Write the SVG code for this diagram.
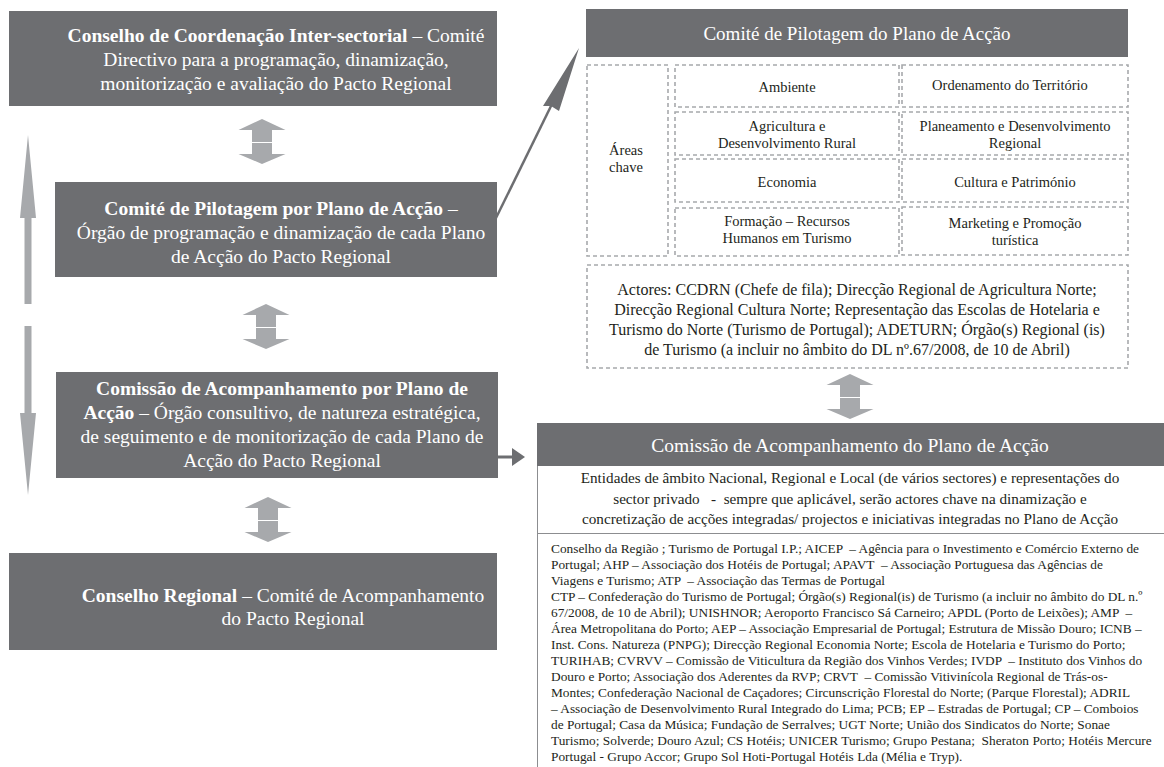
<svg xmlns="http://www.w3.org/2000/svg" width="1164" height="767" viewBox="0 0 1164 767" font-family="'Liberation Serif', 'DejaVu Serif', serif">
<style>
  .dark { fill: #6d6e71; }
  .wt { fill: #ffffff; }
  .lt { font-size: 19.5px; text-anchor: middle; }
  .b { font-weight: bold; }
  .hd { font-size: 19px; text-anchor: middle; }
  .bt { fill: #231f20; }
  .cell { font-size: 14.5px; text-anchor: middle; }
  .act { font-size: 16px; text-anchor: middle; }
  .mid { font-size: 15.2px; text-anchor: middle; }
  .small { font-size: 13.35px; }
  .dash { fill: none; stroke: #a7a9ac; stroke-width: 1.6; stroke-dasharray: 4 3; }
  .lg { fill: #a7a9ac; }
  .conn { stroke: #6d6e71; fill: none; }
  .thin { stroke: #8c8d90; stroke-width: 1; fill: none; }
</style>
<defs>
  <path id="dbl" d="M0,0 L23.5,11 L10,11 L10,23 L-10,23 L-10,11 L-23.5,11 Z M-10,24 L10,24 L10,35 L23.5,35 L0,45 L-23.5,35 L-10,35 Z"/>
</defs>
<rect width="1164" height="767" fill="#ffffff"/>

<g id="connectors">
  <path class="lg" d="M28,135 L36,218 L31.5,218 L31.5,304 L24.5,304 L24.5,218 L20,218 Z"/>
  <path class="lg" d="M24.5,326 L31.5,326 L31.5,413 L36,413 L28,495 L20,413 L24.5,413 Z"/>
  <use href="#dbl" class="lg" x="262" y="119"/>
  <use href="#dbl" class="lg" x="266" y="304"/>
  <use href="#dbl" class="lg" x="268" y="497"/>
  <use href="#dbl" class="lg" x="850" y="374"/>
  <line class="conn" x1="495" y1="220" x2="552" y2="104" stroke-width="2.5"/>
  <path class="dark" d="M579,48 L559,111 L551,106 L543,106 Z"/>
  <line class="conn" x1="487" y1="457" x2="514" y2="457" stroke-width="3"/>
  <path class="dark" d="M525,457 L512,448 L512,466 Z"/>
</g>

<g id="node-conselho-coordenacao">
  <rect class="dark" x="9" y="11" width="488" height="95"/>
  <text class="wt lt" x="276" y="42"><tspan class="b">Conselho de Coordenação Inter-sectorial</tspan> – Comité</text>
  <text class="wt lt" x="276" y="66">Directivo para a programação, dinamização,</text>
  <text class="wt lt" x="276" y="90">monitorização e avaliação do Pacto Regional</text>
</g>

<g id="node-comite-pilotagem">
  <rect class="dark" x="55" y="182" width="442" height="95"/>
  <text class="wt lt" x="281" y="215"><tspan class="b">Comité de Pilotagem por Plano de Acção</tspan> –</text>
  <text class="wt lt" x="281" y="239">Órgão de programação e dinamização de cada Plano</text>
  <text class="wt lt" x="281" y="263">de Acção do Pacto Regional</text>
</g>

<g id="node-comissao-acompanhamento">
  <rect class="dark" x="56" y="372" width="442" height="106"/>
  <text class="wt lt" x="282" y="395"><tspan class="b">Comissão de Acompanhamento por Plano de</tspan></text>
  <text class="wt lt" x="282" y="419"><tspan class="b">Acção</tspan> – Órgão consultivo, de natureza estratégica,</text>
  <text class="wt lt" x="282" y="443">de seguimento e de monitorização de cada Plano de</text>
  <text class="wt lt" x="282" y="467">Acção do Pacto Regional</text>
</g>

<g id="node-conselho-regional">
  <rect class="dark" x="9" y="553" width="488" height="97"/>
  <text class="wt lt" x="283" y="602"><tspan class="b">Conselho Regional</tspan> – Comité de Acompanhamento</text>
  <text class="wt lt" x="293" y="625">do Pacto Regional</text>
</g>

<g id="node-comite-pilotagem-plano">
  <rect class="dark" x="586" y="9" width="542" height="48"/>
  <text class="wt hd" x="857" y="40">Comité de Pilotagem do Plano de Acção</text>
</g>

<g id="node-areas-chave">
  <rect class="dash" x="587" y="65" width="81" height="191"/>
  <text class="bt cell" x="626" y="155">Áreas</text>
  <text class="bt cell" x="626" y="172">chave</text>
</g>

<g id="node-ambiente">
  <rect class="dash" x="675" y="65" width="224" height="42"/>
  <text class="bt cell" x="787" y="92">Ambiente</text>
</g>
<g id="node-ordenamento">
  <rect class="dash" x="902" y="65" width="226" height="42"/>
  <text class="bt cell" x="1010" y="90">Ordenamento do Território</text>
</g>
<g id="node-agricultura">
  <rect class="dash" x="675" y="112" width="224" height="43"/>
  <text class="bt cell" x="787" y="131">Agricultura e</text>
  <text class="bt cell" x="787" y="148">Desenvolvimento Rural</text>
</g>
<g id="node-planeamento">
  <rect class="dash" x="902" y="112" width="226" height="43"/>
  <text class="bt cell" x="1015" y="131">Planeamento e Desenvolvimento</text>
  <text class="bt cell" x="1015" y="148">Regional</text>
</g>
<g id="node-economia">
  <rect class="dash" x="675" y="159" width="224" height="43"/>
  <text class="bt cell" x="787" y="187">Economia</text>
</g>
<g id="node-cultura">
  <rect class="dash" x="902" y="159" width="226" height="43"/>
  <text class="bt cell" x="1015" y="187">Cultura e Património</text>
</g>
<g id="node-formacao">
  <rect class="dash" x="675" y="208" width="224" height="48"/>
  <text class="bt cell" x="787" y="226">Formação – Recursos</text>
  <text class="bt cell" x="787" y="243">Humanos em Turismo</text>
</g>
<g id="node-marketing">
  <rect class="dash" x="902" y="207" width="226" height="48"/>
  <text class="bt cell" x="1015" y="228">Marketing e Promoção</text>
  <text class="bt cell" x="1015" y="245">turística</text>
</g>

<g id="node-actores">
  <rect class="dash" x="587" y="265" width="541" height="103"/>
  <text class="bt act" x="857" y="295">Actores: CCDRN (Chefe de fila); Direcção Regional de Agricultura Norte;</text>
  <text class="bt act" x="857" y="315">Direcção Regional Cultura Norte; Representação das Escolas de Hotelaria e</text>
  <text class="bt act" x="857" y="335">Turismo do Norte (Turismo de Portugal); ADETURN; Órgão(s) Regional (is)</text>
  <text class="bt act" x="857" y="355">de Turismo (a incluir no âmbito do DL nº.67/2008, de 10 de Abril)</text>
</g>

<g id="node-comissao-plano">
  <rect class="dark" x="537" y="423" width="627" height="43"/>
  <text class="wt hd" x="850" y="452" style="font-size:19.5px">Comissão de Acompanhamento do Plano de Acção</text>
  <path class="thin" d="M537.5,466 L537.5,767 M537,533.5 L1164,533.5"/>
  <text class="bt mid" x="850" y="483">Entidades de âmbito Nacional, Regional e Local (de vários sectores) e representações do</text>
  <text class="bt mid" x="850" y="504" xml:space="preserve">sector privado   -  sempre que aplicável, serão actores chave na dinamização e</text>
  <text class="bt mid" x="850" y="524">concretização de acções integradas/ projectos e iniciativas integradas no Plano de Acção</text>
</g>

<g id="node-entidades-lista">
  <text class="bt small" x="551" y="553" xml:space="preserve">Conselho da Região ; Turismo de Portugal I.P.; AICEP  – Agência para o Investimento e Comércio Externo de</text>
  <text class="bt small" x="551" y="569" xml:space="preserve">Portugal; AHP – Associação dos Hotéis de Portugal; APAVT  – Associação Portuguesa das Agências de</text>
  <text class="bt small" x="551" y="585" xml:space="preserve">Viagens e Turismo; ATP  – Associação das Termas de Portugal</text>
  <text class="bt small" x="551" y="601">CTP – Confederação do Turismo de Portugal; Órgão(s) Regional(is) de Turismo (a incluir no âmbito do DL n.º</text>
  <text class="bt small" x="551" y="617" xml:space="preserve">67/2008, de 10 de Abril); UNISHNOR; Aeroporto Francisco Sá Carneiro; APDL (Porto de Leixões); AMP  –</text>
  <text class="bt small" x="551" y="633">Área Metropolitana do Porto; AEP – Associação Empresarial de Portugal; Estrutura de Missão Douro; ICNB –</text>
  <text class="bt small" x="551" y="649">Inst. Cons. Natureza (PNPG); Direcção Regional Economia Norte; Escola de Hotelaria e Turismo do Porto;</text>
  <text class="bt small" x="551" y="665" xml:space="preserve">TURIHAB; CVRVV – Comissão de Viticultura da Região dos Vinhos Verdes; IVDP  – Instituto dos Vinhos do</text>
  <text class="bt small" x="551" y="681" xml:space="preserve">Douro e Porto; Associação dos Aderentes da RVP; CRVT  – Comissão Vitivinícola Regional de Trás-os-</text>
  <text class="bt small" x="551" y="697">Montes; Confederação Nacional de Caçadores; Circunscrição Florestal do Norte; (Parque Florestal); ADRIL</text>
  <text class="bt small" x="551" y="713">– Associação de Desenvolvimento Rural Integrado do Lima; PCB; EP – Estradas de Portugal; CP – Comboios</text>
  <text class="bt small" x="551" y="729">de Portugal; Casa da Música; Fundação de Serralves; UGT Norte; União dos Sindicatos do Norte; Sonae</text>
  <text class="bt small" x="551" y="745" xml:space="preserve">Turismo; Solverde; Douro Azul; CS Hotéis; UNICER Turismo; Grupo Pestana;  Sheraton Porto; Hotéis Mercure</text>
  <text class="bt small" x="551" y="761">Portugal - Grupo Accor; Grupo Sol Hoti-Portugal Hotéis Lda (Mélia e Tryp).</text>
</g>
</svg>
